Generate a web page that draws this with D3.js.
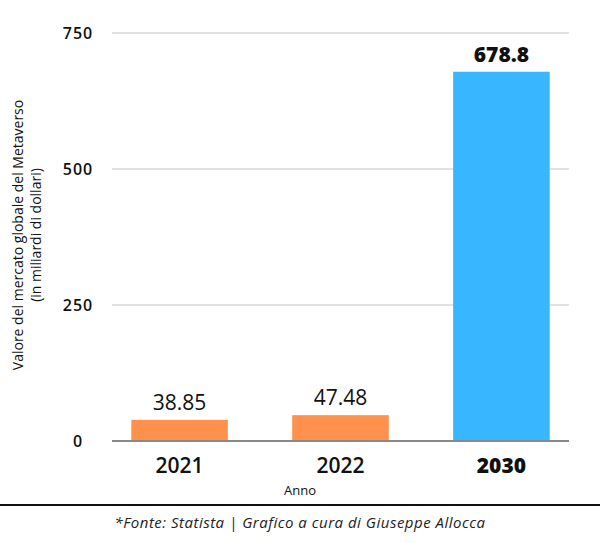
<!DOCTYPE html>
<html>
<head>
<meta charset="utf-8">
<script src="https://cdn.jsdelivr.net/npm/d3@7"></script>
<style>
  body { margin: 0; background: #fff; }
  svg { display: block; }
</style>
</head>
<body>
<svg id="chart"></svg>
<script>
// Data
const years = ["2021", "2022", "2030"];
const values = [38.85, 47.48, 678.8];
const valueLabels = ["38.85", "47.48", "678.8"];
const barColors = ["#ff914d", "#ff914d", "#38b6ff"];
const yTicks = [0, 250, 500, 750];

const width = 600;
const height = 543;
const margin = { top: 33, right: 31, bottom: 102, left: 112 };
const font = "'Open Sans', Lato, sans-serif";

const svg = d3.select("#chart")
  .attr("width", width)
  .attr("height", height);

const x = d3.scaleBand()
  .domain(years)
  .range([margin.left, width - margin.right])
  .paddingInner(0.4)
  .paddingOuter(0.12);

const y = d3.scaleLinear()
  .domain([0, 750])
  .range([height - margin.bottom, margin.top]);

// gridlines
svg.append("g")
  .selectAll("line")
  .data(yTicks.filter(d => d > 0))
  .join("line")
  .attr("x1", margin.left)
  .attr("x2", width - margin.right)
  .attr("y1", d => y(d))
  .attr("y2", d => y(d))
  .attr("stroke", "#d9d9d9")
  .attr("stroke-width", 1.5);

// y tick labels (centred, as in the original)
svg.append("g")
  .selectAll("text")
  .data(yTicks)
  .join("text")
  .attr("x", 78)
  .attr("y", d => y(d))
  .attr("dy", "0.36em")
  .attr("text-anchor", "middle")
  .attr("font-family", font)
  .attr("font-weight", 600)
  .attr("font-size", 16)
  .attr("letter-spacing", 1)
  .attr("fill", "#111")
  .text(d => d);

// bars
svg.append("g")
  .selectAll("rect")
  .data(years)
  .join("rect")
  .attr("x", d => x(d))
  .attr("y", (d, i) => y(values[i]))
  .attr("width", x.bandwidth())
  .attr("height", (d, i) => y(0) - y(values[i]))
  .attr("fill", (d, i) => barColors[i]);

// baseline
svg.append("line")
  .attr("x1", margin.left)
  .attr("x2", width - margin.right)
  .attr("y1", y(0))
  .attr("y2", y(0))
  .attr("stroke", "#888")
  .attr("stroke-width", 2);

// value labels
svg.append("g")
  .selectAll("text")
  .data(years)
  .join("text")
  .attr("x", d => x(d) + x.bandwidth() / 2)
  .attr("y", (d, i) => y(values[i]) - 10)
  .attr("text-anchor", "middle")
  .attr("font-family", font)
  .attr("font-weight", (d, i) => i === 2 ? 800 : 500)
  .attr("font-size", 21)
  .attr("fill", "#111")
  .text((d, i) => valueLabels[i]);

// x tick labels
svg.append("g")
  .selectAll("text")
  .data(years)
  .join("text")
  .attr("x", d => x(d) + x.bandwidth() / 2)
  .attr("y", y(0) + 32)
  .attr("text-anchor", "middle")
  .attr("font-family", font)
  .attr("font-weight", (d, i) => i === 2 ? 800 : 600)
  .attr("font-size", 21)
  .attr("fill", "#111")
  .text(d => d);

// x axis title
svg.append("text")
  .attr("x", 300)
  .attr("y", 495)
  .attr("text-anchor", "middle")
  .attr("font-family", font)
  .attr("font-size", 13)
  .attr("fill", "#111")
  .text("Anno");

// y axis title
const yTitle = svg.append("text")
  .attr("transform", "translate(23,235) rotate(-90)")
  .attr("text-anchor", "middle")
  .attr("font-family", font)
  .attr("font-size", 14)
  .attr("fill", "#111");
yTitle.append("tspan").attr("x", 0).attr("y", 0)
  .text("Valore del mercato globale del Metaverso");
yTitle.append("tspan").attr("x", 0).attr("y", 18)
  .text("(in miliardi di dollari)");

// footer rule and source
svg.append("line")
  .attr("x1", 0)
  .attr("x2", width)
  .attr("y1", 505)
  .attr("y2", 505)
  .attr("stroke", "#111")
  .attr("stroke-width", 2);

svg.append("text")
  .attr("x", 300)
  .attr("y", 528)
  .attr("text-anchor", "middle")
  .attr("font-family", font)
  .attr("font-style", "italic")
  .attr("font-size", 15)
  .attr("letter-spacing", 0.5)
  .attr("fill", "#222")
  .text("*Fonte: Statista | Grafico a cura di Giuseppe Allocca");
</script>
</body>
</html>
